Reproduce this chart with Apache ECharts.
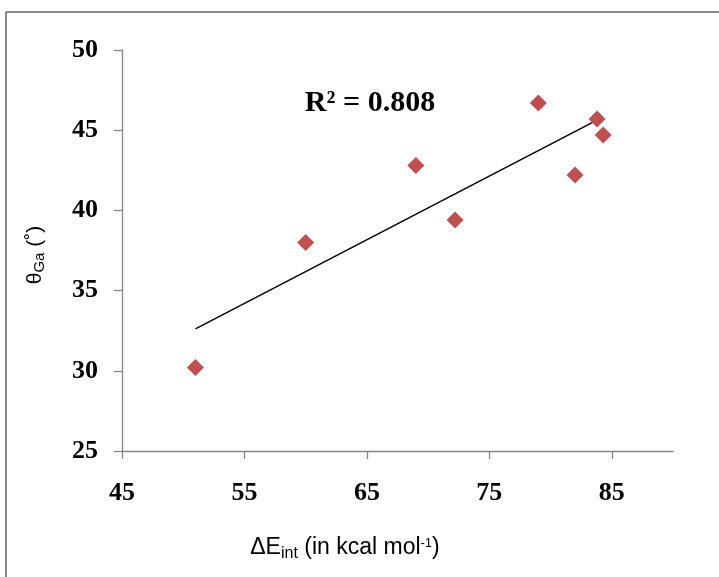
<!DOCTYPE html>
<html>
<head>
<meta charset="utf-8">
<script src="https://cdn.jsdelivr.net/npm/echarts@6/dist/echarts.min.js"></script>
<style>
html,body{margin:0;padding:0;background:#fff;}
#c{width:719px;height:577px;}
</style>
</head>
<body>
<div id="c"></div>
<script>
// Data
const xValues = [51.0, 60.0, 69.0, 72.2, 79.0, 82.0, 83.8, 84.3];
const yValues = [30.2, 38.0, 42.8, 39.4, 46.7, 42.2, 45.7, 44.7];
const xTicks = [45, 55, 65, 75, 85];
const yTicks = [25, 30, 35, 40, 45, 50];
const r2Label = 'R² = 0.808';

const points = xValues.map((x, i) => [x, yValues[i]]);

// Linear least-squares trendline computed from the data
const n = xValues.length;
const mx = xValues.reduce((a, b) => a + b, 0) / n;
const my = yValues.reduce((a, b) => a + b, 0) / n;
let sxy = 0, sxx = 0;
for (let i = 0; i < n; i++) { sxy += (xValues[i] - mx) * (yValues[i] - my); sxx += (xValues[i] - mx) ** 2; }
const slope = sxy / sxx, intercept = my - slope * mx;
const xMin = Math.min(...xValues), xMax = Math.max(...xValues);
const trend = [[xMin, intercept + slope * xMin], [xMax, intercept + slope * xMax]];

const axisGray = '#868686';
const serif = '"Liberation Serif", "DejaVu Serif", serif';
const sans = '"Liberation Sans", "DejaVu Sans", sans-serif';

const chart = echarts.init(document.getElementById('c'), null, {renderer: 'canvas'});
chart.setOption({
  animation: false,
  backgroundColor: '#fff',
  grid: {left: 122, right: 46, top: 50, bottom: 126, containLabel: false},
  xAxis: {
    type: 'value', min: 45, max: 90, interval: 5,
    axisLine: {show: true, onZero: false, lineStyle: {color: axisGray, width: 1.3}},
    axisTick: {show: true, inside: false, length: 8, lineStyle: {color: axisGray, width: 1.3},
      customValues: xTicks},
    axisLabel: {color: '#000', fontFamily: serif, fontWeight: 'bold', fontSize: 26, margin: 29,
      customValues: xTicks, formatter: v => String(v)},
    splitLine: {show: false}
  },
  yAxis: {
    type: 'value', min: 25, max: 50, interval: 5,
    axisLine: {show: true, onZero: false, lineStyle: {color: axisGray, width: 1.3}},
    axisTick: {show: true, inside: false, length: 8, lineStyle: {color: axisGray, width: 1.3}},
    axisLabel: {color: '#000', fontFamily: serif, fontWeight: 'bold', fontSize: 26, margin: 24,
      customValues: yTicks},
    splitLine: {show: false}
  },
  graphic: [
    {type: 'line', shape: {x1: 6, y1: 12, x2: 719, y2: 12}, style: {stroke: '#8a8a8a', lineWidth: 2}, silent: true},
    {type: 'line', shape: {x1: 6, y1: 12, x2: 6, y2: 577}, style: {stroke: '#8a8a8a', lineWidth: 2}, silent: true},
    {type: 'text', x: 370, y: 103,
      style: {text: r2Label, font: 'bold 30px ' + serif, fill: '#000', align: 'center', verticalAlign: 'middle'}},
    {type: 'text', x: 345, y: 548,
      style: {
        align: 'center', verticalAlign: 'middle',
        text: '{a|ΔE}{s|int}{a| (in kcal mol}{p|-1}{a|)}',
        rich: {
          a: {fontFamily: sans, fontSize: 23, fill: '#000'},
          s: {fontFamily: sans, fontSize: 16, fill: '#000', padding: [11, 0, 0, 0]},
          p: {fontFamily: sans, fontSize: 13, fill: '#000', padding: [0, 0, 9, 0]}
        }
      }},
    {type: 'text', x: 35, y: 255, rotation: Math.PI / 2,
      style: {
        align: 'center', verticalAlign: 'middle',
        text: '{a|θ}{s|Ga}{a| (˚)}',
        rich: {
          a: {fontFamily: sans, fontSize: 21, fill: '#000'},
          s: {fontFamily: sans, fontSize: 15, fill: '#000', padding: [10, 0, 0, 0]}
        }
      }}
  ],
  series: [
    {
      type: 'line', data: trend, symbol: 'none', silent: true,
      lineStyle: {color: '#000', width: 1.5}, z: 2
    },
    {
      type: 'scatter', data: points, symbol: 'diamond', symbolSize: 17,
      itemStyle: {color: '#C0504D', opacity: 1}, z: 3
    }
  ]
});
</script>
</body>
</html>
